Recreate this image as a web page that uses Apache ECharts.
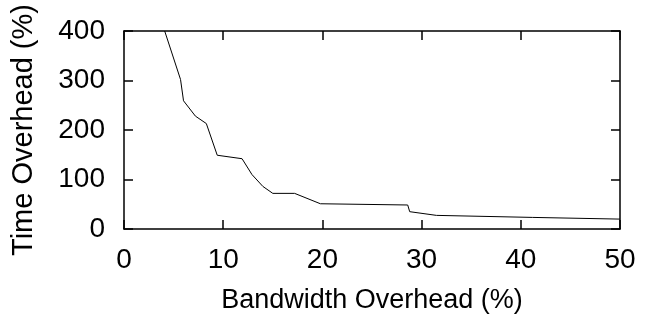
<!DOCTYPE html>
<html>
<head>
<meta charset="utf-8">
<script src="https://cdn.jsdelivr.net/npm/echarts@6/dist/echarts.min.js"></script>
<style>
  html, body { margin: 0; padding: 0; background: #fff; }
  #chart { width: 653px; height: 323px; }
</style>
</head>
<body>
<div id="chart"></div>
<script>
// data
var bandwidth = [4.1, 5.7, 6.0, 7.2, 8.3, 9.4, 11.9, 12.9, 14.0, 15.0, 17.2, 19.8, 28.6, 28.8, 31.5, 41.2, 50];
var timeOverhead = [400, 302, 259, 228, 213, 149, 142, 110, 86, 72, 72, 51, 48.5, 35, 27.5, 23.4, 20];
var xTicks = [0, 10, 20, 30, 40, 50];
var yTicks = [0, 100, 200, 300, 400];

var font = "'Liberation Sans', Arial, sans-serif";

var points = bandwidth.map(function (x, i) { return [x, timeOverhead[i]]; });

var chart = echarts.init(document.getElementById('chart'));

// 坐标轴公共样式
var axisBase = {
  type: 'value',
  axisLine: { show: true, onZero: false, lineStyle: { color: '#000', width: 1.5 } },
  axisTick: { show: true, inside: true, length: 9, lineStyle: { color: '#000', width: 1.5 } },
  splitLine: { show: false },
  axisLabel: { color: '#000', fontSize: 28, fontFamily: font }
};

var option = {
  animation: false,
  grid: { left: 124, right: 33, top: 31, bottom: 94 },
  xAxis: [
    Object.assign({}, axisBase, {
      min: xTicks[0], max: xTicks[xTicks.length - 1], interval: 10,
      position: 'bottom',
      axisLabel: Object.assign({}, axisBase.axisLabel, { margin: 17 }),
      name: 'Bandwidth Overhead (%)',
      nameLocation: 'middle',
      nameGap: 58,
      nameTextStyle: { color: '#000', fontSize: 27, fontFamily: font }
    }),
    Object.assign({}, axisBase, {
      min: xTicks[0], max: xTicks[xTicks.length - 1], interval: 10,
      position: 'top',
      axisLabel: { show: false }
    })
  ],
  yAxis: [
    Object.assign({}, axisBase, {
      min: yTicks[0], max: yTicks[yTicks.length - 1], interval: 100,
      position: 'left',
      axisLabel: Object.assign({}, axisBase.axisLabel, { margin: 19 }),
      name: 'Time Overhead (%)',
      nameLocation: 'middle',
      nameGap: 86,
      nameTextStyle: { color: '#000', fontSize: 29, fontFamily: font }
    }),
    Object.assign({}, axisBase, {
      min: yTicks[0], max: yTicks[yTicks.length - 1], interval: 100,
      position: 'right',
      axisLabel: { show: false }
    })
  ],
  series: [{
    type: 'line',
    data: points,
    showSymbol: false,
    clip: true,
    lineStyle: { color: '#000', width: 1 }
  }]
};

chart.setOption(option);
</script>
</body>
</html>
